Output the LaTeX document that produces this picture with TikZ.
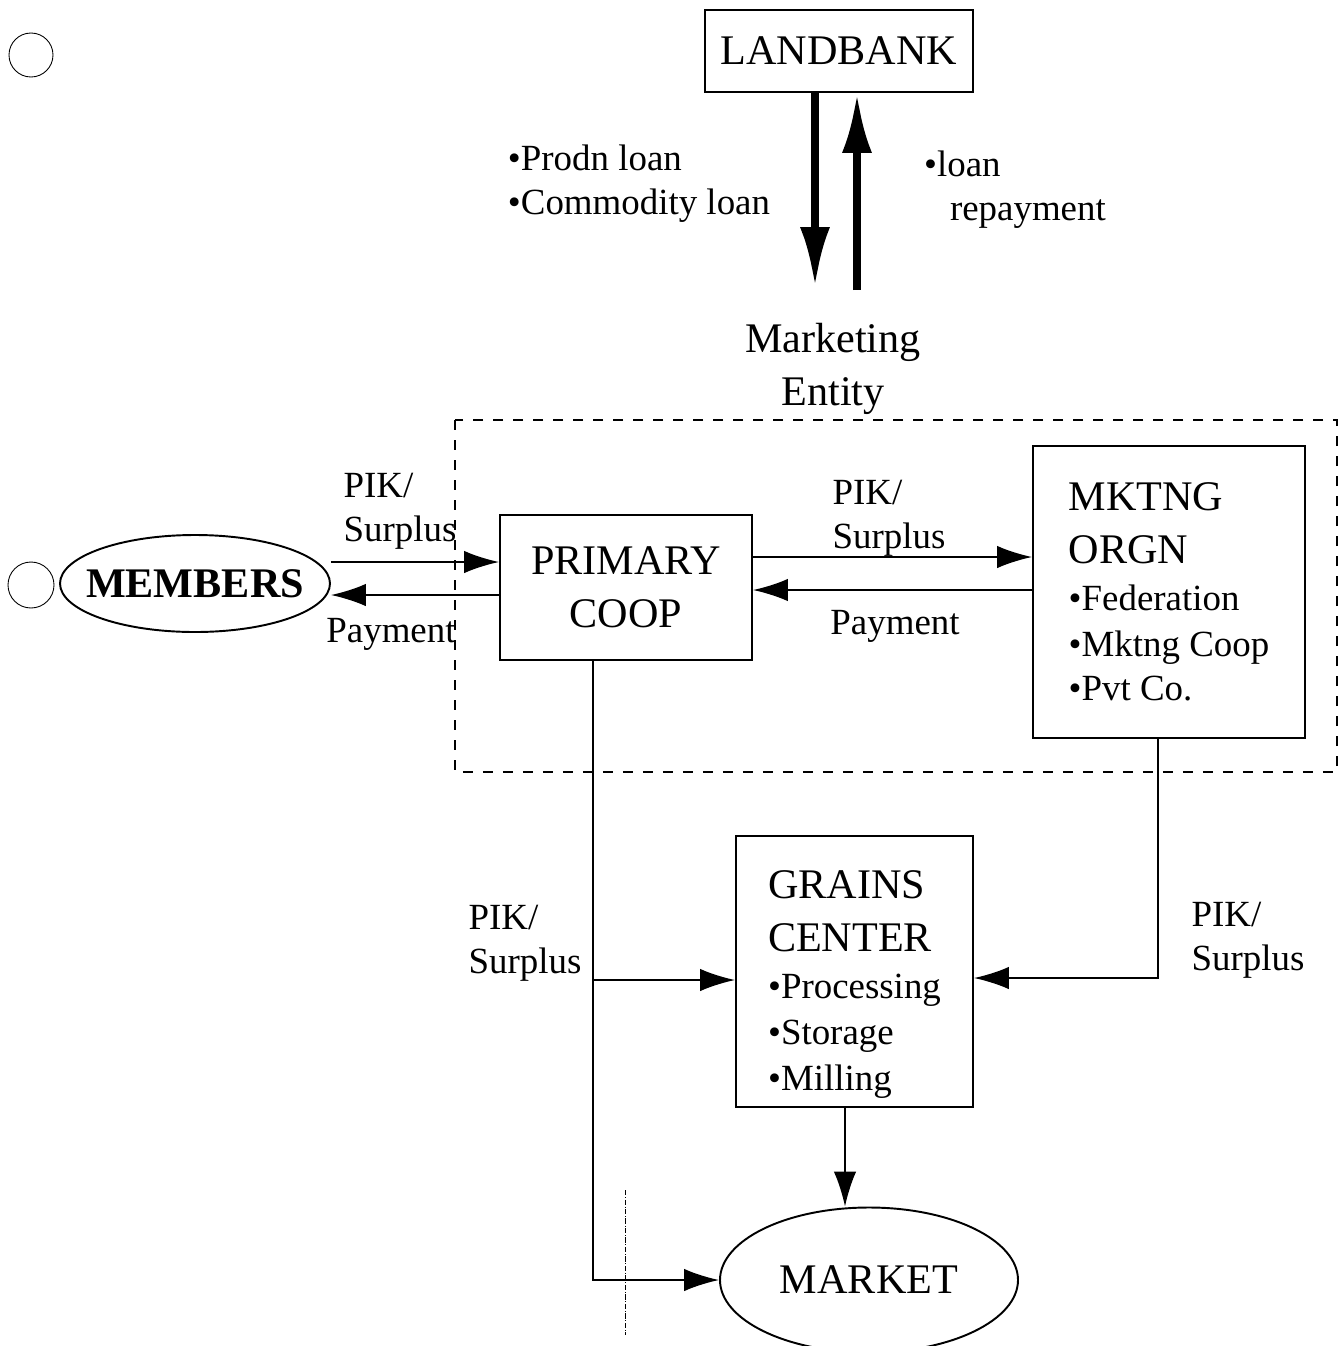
\documentclass[tikz,border=0pt]{standalone}
\usepackage{fontspec}
\setmainfont{Liberation Serif}
\usetikzlibrary{arrows.meta,calc,positioning,shapes.geometric}
\newcommand{\bigtxt}{\fontsize{24}{30}\selectfont}
\newcommand{\smalltxt}{\fontsize{21}{25}\selectfont}
\tikzset{box/.style={draw,line width=1.1pt,align=center,inner sep=3pt,font=\bigtxt},
  oval/.style={draw,ellipse,line width=1.1pt,inner sep=0pt,font=\bigtxt},
  lbl/.style={align=left,font=\smalltxt,inner sep=0pt},
  arr/.style={-{Latex[length=7mm,width=4.5mm]},line width=1.1pt},
  fatarr/.style={-{Latex[length=12mm,width=6mm]},line width=4.5pt}}

\begin{document}
\begin{tikzpicture}
\useasboundingbox (0,0) rectangle (26.78,-26.92);
% boxes
\node[box,minimum width=5.36cm,minimum height=1.64cm] (landbank) at (16.78,-1.02) {LANDBANK};
\node[box,minimum width=5.04cm,minimum height=2.9cm] (primary) at (12.52,-11.75) {PRIMARY\\COOP};
\node[box,align=left,minimum width=5.44cm,minimum height=5.84cm] (mktng) at (23.38,-11.84)
  {MKTNG\\ORGN\\[-3pt]\smalltxt •Federation\\[-4pt]\smalltxt •Mktng Coop\\[-5pt]\smalltxt •Pvt Co.};
\node[box,align=left,minimum width=4.74cm,minimum height=5.42cm] (grains) at (17.09,-19.43)
  {GRAINS\\CENTER\\[-3pt]\smalltxt •Processing\\[-4pt]\smalltxt •Storage\\[-4pt]\smalltxt •Milling\\[-40pt]};
\node[oval,minimum width=5.4cm,minimum height=1.94cm,font=\bigtxt\bfseries] (members) at (3.9,-11.67) {\makebox[0pt]{MEMBERS}};
\node[oval,minimum width=5.96cm,minimum height=2.9cm] (market) at (17.38,-25.6) {MARKET};
% dashed marketing entity frame
\draw[line width=1.1pt,dash pattern=on 0.2cm off 0.2cm] (9.1,-8.4) rectangle (26.74,-15.44);
\node[align=center,font=\bigtxt,inner sep=0pt] (entity) at (16.66,-7.38) {Marketing\\Entity};
% loans
\coordinate (lbdn) at (16.3,-5.74);
\coordinate (lbup) at (17.14,-5.8);
\draw[fatarr] (landbank.south -| lbdn) -- (lbdn);
\draw[fatarr] (lbup) -- (landbank.south -| lbup);
\node[lbl] (loans) at (12.78,-3.68) {•Prodn loan\\•Commodity loan};
\node[lbl] (repay) at (20.3,-3.8) {•loan\\\phantom{••}repayment};
% members <-> primary
\draw[arr] ([yshift=0.43cm]members.east) -- ([yshift=0.43cm]members.east -| primary.west);
\draw[arr] ([yshift=-0.15cm]primary.west) -- ([yshift=-0.15cm]primary.west -| members.east);
\node[lbl] (pik1) at (8.0,-10.22) {PIK/\\Surplus};
\node[lbl] (pay1) at (7.82,-12.68) {Payment};
% primary <-> mktng
\draw[arr] ([yshift=0.61cm]primary.east) -- ([yshift=0.61cm]primary.east -| mktng.west);
\draw[arr] ([yshift=-0.05cm]primary.east -| mktng.west) -- ([yshift=-0.05cm]primary.east);
\node[lbl] (pik2) at (17.78,-10.37) {PIK/\\Surplus};
\node[lbl] (pay2) at (17.9,-12.52) {Payment};
% to grains center and market
\coordinate (pcdrop) at ([xshift=-0.66cm]primary.south);
\coordinate (gin) at ([yshift=-0.17cm]grains.west);
\draw[arr] (pcdrop) |- (market.west);
\draw[arr] (pcdrop |- gin) -- (gin);
\node[lbl] (pik3) at (10.5,-18.87) {PIK/\\Surplus};
\coordinate (mkdrop) at ([xshift=-0.22cm]mktng.south);
\coordinate (gout) at ([yshift=-0.13cm]grains.east);
\draw[arr] (mkdrop) |- (gout);
\node[lbl] (pik4) at (24.96,-18.8) {PIK/\\Surplus};
\draw[arr] ([xshift=-0.19cm]grains.south) -- ([xshift=-0.19cm]grains.south |- market.north);
% punch holes and scan marks
\draw[line width=0.5pt] (0.62,-1.1) circle (0.44);
\draw[line width=0.5pt] (0.62,-11.7) circle (0.46);
\draw[line width=0.4pt,densely dashdotted] (12.5,-23.8) -- (12.5,-26.7);
\end{tikzpicture}
\end{document}
